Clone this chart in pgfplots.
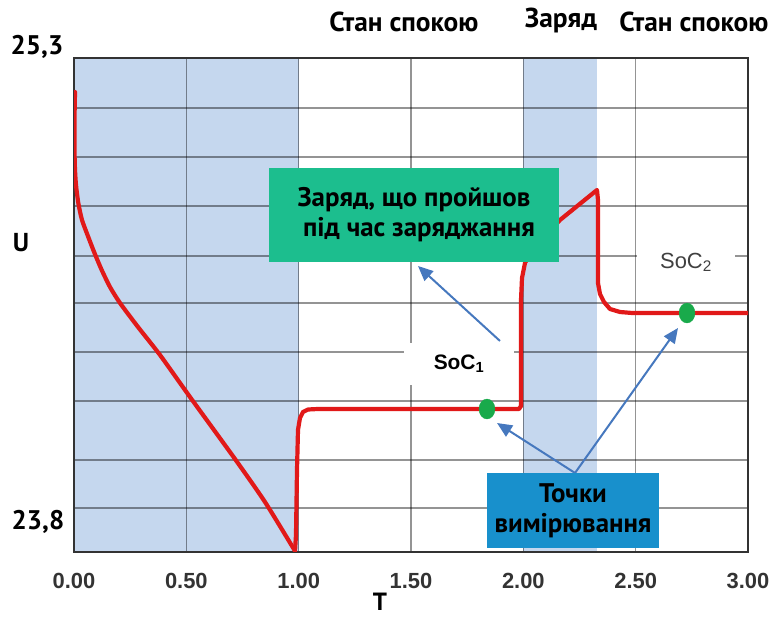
\documentclass[border=0pt]{standalone}
\usepackage{fontspec}
\setmainfont{PT Sans}
\newfontfamily\arialfont{Liberation Sans}
\usepackage{pgfplots}
\pgfplotsset{compat=1.18}
\usetikzlibrary{arrows.meta}
\definecolor{phaseblue}{RGB}{197,215,238}
\definecolor{curvered}{RGB}{225,25,25}
\definecolor{boxgreen}{RGB}{28,190,142}
\definecolor{boxblue}{RGB}{24,144,204}
\definecolor{arrowblue}{RGB}{70,120,190}
\definecolor{dotgreen}{RGB}{25,170,75}
\begin{document}
\begin{tikzpicture}
\begin{axis}[
  at={(74bp,67bp)}, anchor=south west,
  scale only axis, width=674bp, height=494bp,
  xmin=0, xmax=3, ymin=23.6533, ymax=25.3,
  set layers=standard,
  clip mode=individual,
  xtick={0,0.5,1,1.5,2,2.5,3},
  xticklabels={0.00,0.50,1.00,1.50,2.00,2.50,3.00},
  ytick={23.8,23.96,24.157,24.32,24.483,24.64,24.807,24.97,25.133},
  yticklabels={},
  major tick length=0pt,
  tick style={draw=none},
  xmajorgrids, ymajorgrids,
  grid style={black, opacity=0.42, line width=1.3bp},
  axis line style={black!80, line width=1.5bp},
  /pgf/number format/assume math mode=true,
  xticklabel style={font=\arialfont\bfseries\fontsize{22}{24}\selectfont, text=black!80, yshift=-18bp},
]
% phase shading
\addplot[on layer=axis background, fill=phaseblue, draw=none]
  coordinates {(0,23.6533) (1,23.6533) (1,25.3) (0,25.3)} -- cycle;
\addplot[on layer=axis background, fill=phaseblue, draw=none]
  coordinates {(2.0,23.6533) (2.33,23.6533) (2.33,25.3) (2.0,25.3)} -- cycle;
% voltage curve: discharge
\addplot[curvered, line width=4.2bp, line join=round, line cap=round, smooth, tension=0.4] coordinates {
 (0.0045,25.1867) (0.0022,25.0933) (0.0022,24.9933) (0.0045,24.9267) (0.0089,24.8767)
 (0.0191,24.8167) (0.0356,24.76) (0.0636,24.7033) (0.0912,24.65) (0.1233,24.5933)
 (0.1602,24.5367) (0.2047,24.4833) (0.2849,24.4033) (0.3828,24.31) (0.5163,24.17)
 (0.7166,23.9633) (0.8501,23.82) (0.9837,23.6567)
};
% voltage curve: rest, charge, rest
\addplot[curvered, line width=4.2bp, line join=round, line cap=round] coordinates {
 (0.9837,23.6567)
 (0.9881,23.71) (0.9926,23.9267) (0.9970,24.06) (1.0059,24.1) (1.0193,24.12)
 (1.0415,24.1283) (1.0860,24.13) (1.9807,24.13) (1.9896,24.14) (1.9896,24.4933)
 (1.9941,24.5667) (2.0074,24.6167) (2.0386,24.66) (2.1632,24.76) (2.3279,24.86)
 (2.3323,24.8267) (2.3323,24.55) (2.3412,24.5133) (2.3590,24.4867) (2.3858,24.4633)
 (2.4303,24.4533) (2.4837,24.45) (3.0,24.45)
};
% measurement points
\addplot[only marks, mark=*, mark size=8pt, color=dotgreen, mark options={yscale=1.25}]
  coordinates {(1.8383,24.13) (2.7284,24.45)};
% SoC labels
\node[fill=white, minimum width=110bp, minimum height=42bp, inner sep=0pt,
  font=\arialfont\bfseries\fontsize{21}{22}\selectfont]
  at (axis cs:1.7136,24.28) {SoC\textsubscript{1}};
\node[fill=white, minimum width=98bp, minimum height=55bp, inner sep=0pt,
  font=\arialfont\fontsize{22}{24}\selectfont, text=black!75]
  at (axis cs:2.724,24.6183) {SoC\textsubscript{2}};
% arrows
\draw[arrowblue, line width=2bp, -{Triangle[length=15bp,width=13bp]}]
  (axis cs:1.8961,24.3567) -- (axis cs:1.5311,24.6067);
\draw[arrowblue, line width=2bp, -{Triangle[length=15bp,width=13bp]}]
  (axis cs:2.23,23.9167) -- (axis cs:1.8828,24.0833);
\draw[arrowblue, line width=2bp, -{Triangle[length=15bp,width=13bp]}]
  (axis cs:2.23,23.9167) -- (axis cs:2.6884,24.40);
% boxes
\node[fill=boxgreen, minimum width=290bp, minimum height=94bp, inner sep=0pt,
  align=center, font=\bfseries\fontsize{27}{30}\selectfont]
  at (axis cs:1.5134,24.7767) {Заряд, що пройшов\\\hspace*{10bp}під час заряджання};
\node[fill=boxblue, minimum width=172bp, minimum height=75bp, inner sep=0pt,
  align=center, font=\bfseries\fontsize{27}{30}\selectfont]
  at (axis cs:2.2211,23.7917) {Точки\\вимірювання};
\end{axis}
% titles and axis texts
\node[font=\bfseries\fontsize{27.5}{30}\selectfont] at (404bp,597bp) {Стан спокою};
\node[font=\bfseries\fontsize{27.5}{30}\selectfont] at (561bp,599bp) {Заряд};
\node[font=\bfseries\fontsize{27.5}{30}\selectfont] at (694bp,597bp) {Стан спокою};
\node[font=\bfseries\fontsize{27}{30}\selectfont] at (37bp,572bp) {25,3};
\node[font=\bfseries\fontsize{27}{30}\selectfont] at (38bp,97bp) {23,8};
\node[font=\bfseries\fontsize{26}{30}\selectfont] at (21bp,376bp) {U};
\node[font=\bfseries\fontsize{25}{28}\selectfont, inner sep=0pt] at (380bp,17bp) {T};
\pgfresetboundingbox
\path[use as bounding box] (0,0) rectangle (776bp,619bp);
\end{tikzpicture}
\end{document}
